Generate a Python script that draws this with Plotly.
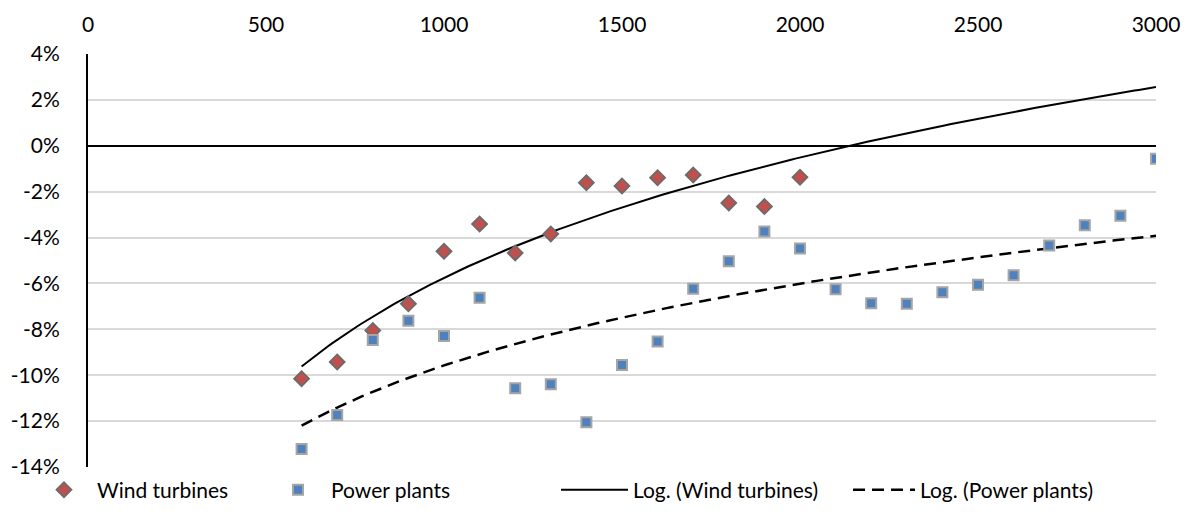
import numpy as np
import plotly.graph_objects as go

# ---- data ----
wind_x = [600, 700, 800, 900, 1000, 1100, 1200, 1300, 1400, 1500, 1600, 1700, 1800, 1900, 2000]
wind_y = [-10.15, -9.42, -8.05, -6.89, -4.60, -3.41, -4.67, -3.84, -1.61, -1.75, -1.39, -1.27, -2.49, -2.65, -1.37]

plant_x = [600, 700, 800, 900, 1000, 1100, 1200, 1300, 1400, 1500, 1600, 1700, 1800, 1900, 2000,
           2100, 2200, 2300, 2400, 2500, 2600, 2700, 2800, 2900, 3000]
plant_y = [-13.22, -11.73, -8.46, -7.63, -8.29, -6.62, -10.57, -10.39, -12.05, -9.55, -8.53, -6.23, -5.03, -3.74, -4.48,
           -6.25, -6.86, -6.89, -6.38, -6.06, -5.64, -4.35, -3.46, -3.05, -0.56]

x_ticks = [0, 500, 1000, 1500, 2000, 2500, 3000]
y_ticks = [-14, -12, -10, -8, -6, -4, -2, 0, 2, 4]
y_tick_labels = [f"{v}%" for v in y_ticks]

# logarithmic trendlines (least squares y = a ln x + b), as in the spreadsheet
def log_fit(xs, ys, x_from, x_to):
    a, b = np.polyfit(np.log(xs), ys, 1)
    xx = np.linspace(x_from, x_to, 200)
    return xx, a * np.log(xx) + b

wt_x, wt_y = log_fit(wind_x, wind_y, 600, 3000)
pt_x, pt_y = log_fit(plant_x, plant_y, 600, 3000)

FONT = "Lato"
FS = 21

fig = go.Figure()
fig.add_trace(go.Scatter(x=wt_x, y=wt_y, mode="lines", name="Log. (Wind turbines)", showlegend=True,
                         line=dict(color="black", width=2), legend="legend3"))
fig.add_trace(go.Scatter(x=pt_x, y=pt_y, mode="lines", name="Log. (Power plants)", showlegend=True,
                         line=dict(color="black", width=2.5, dash="12px,7px"), legend="legend4"))
fig.add_trace(go.Scatter(x=wind_x, y=wind_y, mode="markers", name="Wind turbines", showlegend=True,
                         marker=dict(symbol="diamond", size=11.5, color="#C0504D",
                                     line=dict(color="#6B6B6B", width=1.8)), legend="legend"))
fig.add_trace(go.Scatter(x=plant_x, y=plant_y, mode="markers", name="Power plants", showlegend=True,
                         marker=dict(symbol="square", size=10, color="#4F81BD",
                                     line=dict(color="#A5A5A5", width=2)), legend="legend2"))

leg_common = dict(orientation="h", xref="container", yref="container", yanchor="middle",
                  xanchor="left", font=dict(family=FONT, size=FS, color="black"),
                  bgcolor="rgba(0,0,0,0)", borderwidth=0)
ly = 1 - 490 / 518
fig.update_layout(
    showlegend=True,
    legend=dict(leg_common, x=31 / 1192, y=ly, itemwidth=56),
    legend2=dict(leg_common, x=265 / 1192, y=ly, itemwidth=56),
    legend3=dict(leg_common, x=556 / 1192, y=ly, itemwidth=67),
    legend4=dict(leg_common, x=848 / 1192, y=ly, itemwidth=62),
)

fig.update_layout(
    width=1192, height=518,
    margin=dict(l=88, r=36, t=54, b=51),
    paper_bgcolor="white", plot_bgcolor="white",
    font=dict(family=FONT, size=FS, color="black"),
    xaxis=dict(range=[0, 3000], side="top", tickvals=x_ticks, showgrid=False, automargin=False,
               zeroline=False, showline=False, ticks="", ticklabelstandoff=17,
               tickfont=dict(family=FONT, size=FS, color="black")),
    yaxis=dict(range=[-14, 4], tickmode="array", tickvals=y_ticks, ticktext=y_tick_labels,
               automargin=False,
               showgrid=True, gridcolor="#D9D9D9", gridwidth=1.5, zeroline=True,
               zerolinecolor="black", zerolinewidth=2, showline=True, linecolor="black",
               linewidth=2, ticks="", ticklabelstandoff=22,
               tickfont=dict(family=FONT, size=FS, color="black")),
)

fig.write_html("out.html")
